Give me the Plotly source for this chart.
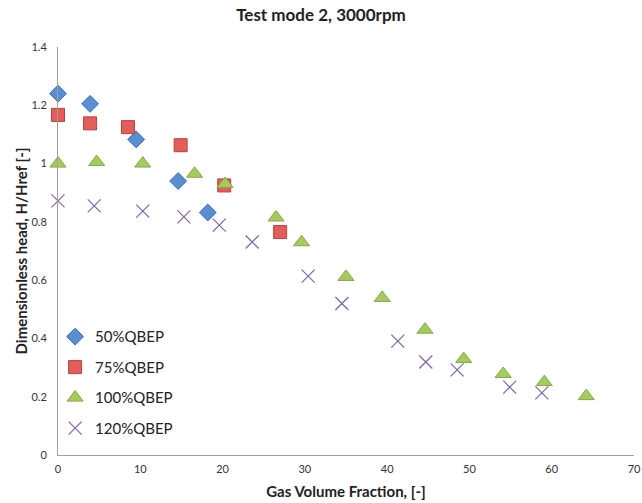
import plotly.graph_objects as go

x50 = [0, 3.9, 9.5, 14.6, 18.2]
y50 = [1.24, 1.205, 1.083, 0.94, 0.832]

x75 = [0, 3.9, 8.5, 14.9, 20.2, 27.0]
y75 = [1.167, 1.138, 1.125, 1.063, 0.925, 0.765]

x100 = [0, 4.7, 10.3, 16.6, 20.3, 26.5, 29.6, 35.0, 39.4, 44.6, 49.3, 54.1, 59.1, 64.2]
y100 = [1.0, 1.005, 1.0, 0.965, 0.93, 0.815, 0.73, 0.611, 0.539, 0.43, 0.329, 0.278, 0.25, 0.202]

x120 = [0, 4.4, 10.3, 15.3, 19.6, 23.6, 30.4, 34.5, 41.3, 44.7, 48.5, 54.9, 58.8]
y120 = [0.872, 0.855, 0.837, 0.817, 0.789, 0.731, 0.614, 0.52, 0.391, 0.319, 0.292, 0.233, 0.213]

names = ["50%QBEP", "75%QBEP", "100%QBEP", "120%QBEP"]

fig = go.Figure()
fig.add_trace(go.Scatter(x=x50, y=y50, mode="markers", name=names[0], cliponaxis=False, legendgroup="a",
                         marker=dict(symbol="diamond", size=13, color="#5B8DD3",
                                     line=dict(color="#3F6FB0", width=1))))
fig.add_trace(go.Scatter(x=x75, y=y75, mode="markers", name=names[1], cliponaxis=False, legendgroup="b",
                         marker=dict(symbol="square", size=13, color="#E35D5A",
                                     line=dict(color="#B8403D", width=1))))
fig.add_trace(go.Scatter(x=x100, y=y100, mode="markers", name=names[2], cliponaxis=False, legendgroup="c",
                         marker=dict(symbol="triangle-up", size=14, color="#A5CA5E",
                                     line=dict(color="#86A845", width=1))))
fig.add_trace(go.Scatter(x=x120, y=y120, mode="markers", name=names[3], cliponaxis=False, legendgroup="d",
                         marker=dict(symbol="x-thin", size=13, color="#8064A2",
                                     line=dict(color="#8064A2", width=1.2))))

fig.update_layout(
    width=642, height=503,
    paper_bgcolor="white", plot_bgcolor="white",
    margin=dict(l=58, r=8, t=47, b=48),
    font=dict(family="Lato, Open Sans, sans-serif", color="#222"),
    title=dict(text="<b>Test mode 2, 3000rpm</b>", x=0.5, xanchor="center", y=0.97, yanchor="middle",
               font=dict(size=17, color="#222")),
    showlegend=True,
    legend=dict(x=-0.005, y=0.33, xanchor="left", yanchor="top", bgcolor="rgba(0,0,0,0)",
                font=dict(size=15, color="#222"), itemwidth=30, tracegroupgap=8),
    xaxis=dict(range=[0, 70], dtick=10, showgrid=False, zeroline=False, showline=True, automargin=False,
               linecolor="#A0A0A0", linewidth=1, ticks="", tickfont=dict(size=11, color="#333"),
               ticklabelstandoff=4,
               title=dict(text="<b>Gas Volume Fraction, [-]</b>", font=dict(size=15, color="#222"), standoff=12)),
    yaxis=dict(range=[0, 1.4], dtick=0.2, showgrid=False, zeroline=False, showline=True, automargin=False,
               linecolor="#A0A0A0", linewidth=1, ticks="", tickfont=dict(size=11, color="#333"),
               ticklabelstandoff=8,
               title=dict(text="<b>Dimensionless head, H/Href [-]</b>", font=dict(size=15, color="#222"), standoff=0)),
)

fig.write_html("out.html", config={"displayModeBar": False},
               post_script="document.body.style.margin='0';")
